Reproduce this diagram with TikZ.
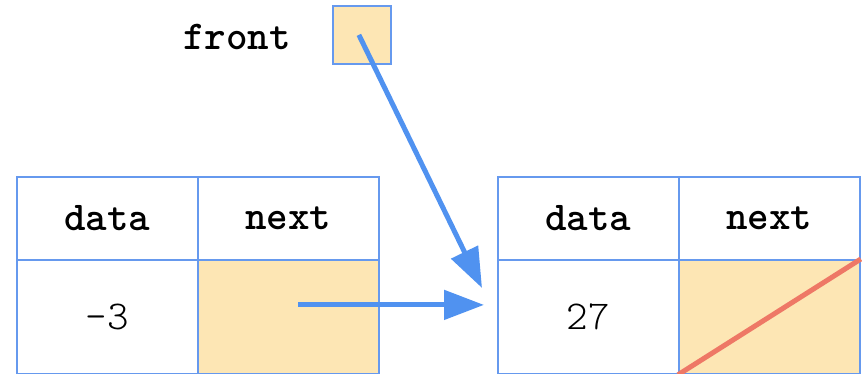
\documentclass[tikz,border=0pt]{standalone}
\usepackage{fontspec}
\setmonofont{Latin Modern Mono Light}
\usetikzlibrary{arrows.meta}
\definecolor{cellborder}{HTML}{6699EE}
\definecolor{cellfill}{HTML}{FDE6B4}
\definecolor{ptrblue}{HTML}{5092F0}
\definecolor{nullred}{HTML}{EE7866}
\tikzset{
  txt/.style={font=\fontsize{41}{45}\selectfont\ttfamily},
  boldtxt/.style={font=\fontsize{41}{45}\selectfont\ttfamily\bfseries},
  cell/.style={draw=cellborder, line width=1.8pt, rectangle, inner sep=0pt,
    anchor=north west, minimum width=181pt, txt},
  headcell/.style={cell, minimum height=83pt, boldtxt},
  valcell/.style={cell, minimum height=114pt},
  ptrcell/.style={cell, minimum height=114pt, fill=cellfill},
  pointer/.style={ptrblue, line width=5pt, -{Triangle[length=40pt,width=29pt]}},
}
\begin{document}
\begin{tikzpicture}[x=1pt, y=-1pt]
  \useasboundingbox (0,0) rectangle (862,374);

  % the front pointer
  \node[boldtxt] (frontlabel) at (237,37) {front};
  \node[draw=cellborder, line width=1.8pt, fill=cellfill, inner sep=0pt,
        minimum width=58pt, minimum height=58pt, anchor=north west] (front) at (332,5) {};

  % first list node
  \node[headcell] (ldata) at (16,176) {data};
  \node[headcell] (lnext) at (197,176) {next};
  \node[valcell]  (lval)  at (16,259) {-3};
  \node[ptrcell]  (lptr)  at (197,259) {};

  % second list node
  \node[headcell] (rdata) at (497,176) {data};
  \node[headcell] (rnext) at (678,176) {next};
  \node[valcell]  (rval)  at (497,259) {27};
  \node[ptrcell]  (rptr)  at (678,259) {};

  % null pointer in the last node
  \draw[nullred, line width=5pt] (rptr.south west) -- (rptr.north east);

  % pointer arrows
  \coordinate (lstart) at ([xshift=10pt, yshift=12pt]lptr.center);
  \coordinate (ltip) at ([xshift=-13pt, yshift=12pt]rval.west);
  \coordinate (ftip) at ([xshift=-15pt, yshift=-29pt]rval.north west);
  \coordinate (fstart) at ([xshift=-3pt]front.center);
  \draw[pointer] (lstart) -- (ltip);
  \draw[pointer] (fstart) -- (ftip);
\end{tikzpicture}
\end{document}
